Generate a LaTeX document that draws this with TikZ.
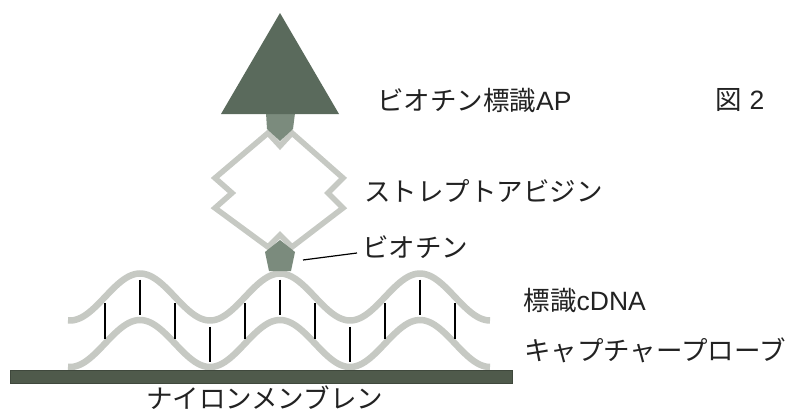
\documentclass[tikz,border=0pt]{standalone}
\usepackage{fontspec}
\newfontfamily\jp{Noto Sans CJK JP}
\newfontfamily\lat{Liberation Sans}
\definecolor{apgreen}{HTML}{5A6A5C}
\definecolor{biotin}{HTML}{7B8B7D}
\definecolor{strand}{HTML}{C6C9C3}
\definecolor{nylon}{HTML}{4F5A4B}
\definecolor{ink}{HTML}{222222}
\tikzset{
  lbl/.style={anchor=base west, inner sep=0pt, text=ink, font=\jp\fontsize{26.5}{30}\selectfont},
  dna/.style={draw=strand, line width=6.5pt, line cap=butt},
  bp/.style={draw=black, line width=1.1pt},
  sav/.style={draw=strand, line width=5.5pt, line join=miter},
  biot/.style={fill=biotin},
}
% strand heights: one wave period is 140 units (360/140 = 2.5714286 degrees per unit)
\newcommand{\upperY}[1]{297-23.5*cos(2.5714286*(#1-140))}
\newcommand{\lowerY}[1]{343.5-23.5*cos(2.5714286*(#1-140))}
\begin{document}
\begin{tikzpicture}[x=1pt, y=-1pt]
  \path[use as bounding box, fill=white] (0,0) rectangle (796,415);

  % double-stranded cDNA on the capture probe
  \draw[dna] plot[domain=68:490, samples=160] (\x, {\upperY{\x}});
  \draw[dna] plot[domain=68:490, samples=160] (\x, {\lowerY{\x}});
  \foreach \xx in {105,140,...,455}
    \draw[bp] (\xx, {\upperY{\xx}+6}) -- (\xx, {\lowerY{\xx}-5});

  % nylon membrane
  \fill[nylon, draw=nylon!80!black, line width=0.6pt] (10,370) rectangle (512,383);

  % streptavidin with its four binding notches
  \draw[sav] (268,133) -- (280,146) -- (292,133) -- (343,178) -- (328,193) -- (343,208)
    -- (292,247) -- (280,235) -- (268,247) -- (215,208) -- (232,193) -- (215,178) -- cycle;

  % biotin on the cDNA
  \fill[biot] (280,240) -- (295,252) -- (291,271) -- (269,271) -- (265,252) -- cycle;
  % biotin of the labelled AP
  \fill[biot] (266,113) -- (295,113) -- (293,129) -- (280,141) -- (267,129) -- cycle;
  % alkaline phosphatase
  \fill[apgreen] (280,13) -- (339,114) -- (221,114) -- cycle;

  % labels
  \node[lbl] (ap) at (377,110.5) {ビオチン標識{\lat AP}};
  \node[lbl] (fig) at (715,109) {図\hspace{8pt}{\lat 2}};
  \node[lbl] (sa) at (364,201) {ストレプトアビジン};
  \node[lbl] (bt) at (362,257.5) {ビオチン};
  \node[lbl] (cdna) at (523.5,310) {標識{\lat cDNA}};
  \node[lbl] (probe) at (524,360) {キャプチャープローブ};
  \node[lbl] (mem) at (146,408) {ナイロンメンブレン};

  % leader from the label to the biotin
  \coordinate (btA) at (303,260);
  \coordinate (btB) at (357,253);
  \draw[black, line width=1.2pt] (btA) -- (btB);
\end{tikzpicture}
\end{document}
